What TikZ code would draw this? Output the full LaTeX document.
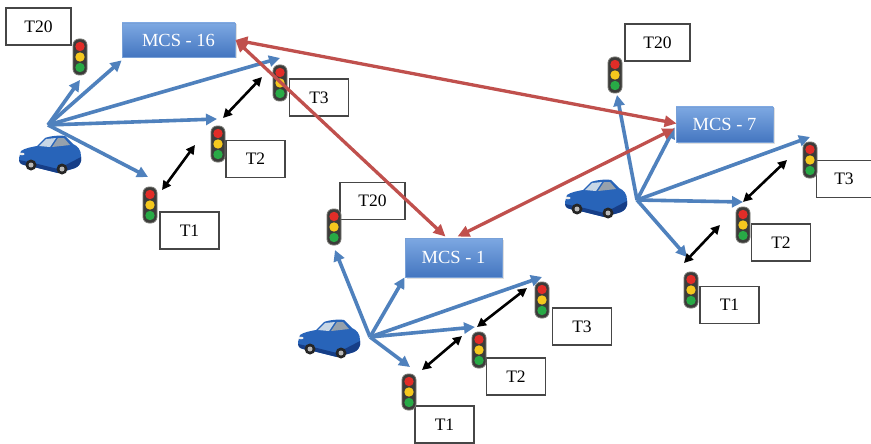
\documentclass[tikz,border=0pt]{standalone}
\usepackage{fontspec}
\setmainfont{Liberation Serif}
\usetikzlibrary{arrows.meta,calc,shadows}

\definecolor{linkblue}{RGB}{79,129,189}
\definecolor{linkred}{RGB}{192,80,77}
\definecolor{mcstop}{RGB}{125,168,226}
\definecolor{mcsbot}{RGB}{68,118,192}
\definecolor{mcsedge}{RGB}{120,160,215}
\definecolor{labeledge}{RGB}{70,70,70}
\definecolor{lampbody}{RGB}{60,60,58}
\definecolor{lampedge}{RGB}{120,120,115}
\definecolor{lampred}{RGB}{225,45,40}
\definecolor{lampyellow}{RGB}{245,200,30}
\definecolor{lampgreen}{RGB}{40,170,70}
\definecolor{carblue}{RGB}{40,100,185}
\definecolor{carshade}{RGB}{22,62,135}
\definecolor{carglass}{RGB}{200,215,230}

\tikzset{
  tlabel/.style={draw=labeledge, line width=1.3pt, fill=white, minimum width=59pt,
    minimum height=37pt, inner sep=0pt, font=\fontsize{17.5}{20}\selectfont},
  wlabel/.style={tlabel, minimum width=65pt},
  mcs/.style={draw=mcsedge, line width=0.8pt, top color=mcstop, bottom color=mcsbot,
    text=white, inner sep=0pt, font=\fontsize{18.5}{20}\selectfont,
    drop shadow={opacity=0.25, shadow xshift=1.5pt, shadow yshift=-1.5pt}},
  tlight/.style={fill=lampbody, draw=lampedge, line width=0.8pt, rounded corners=6pt,
    minimum width=14pt, minimum height=36pt, inner sep=0pt,
    path picture={
      \fill[lampred] ($(path picture bounding box.center)+(0,-10.5)$) circle[radius=4.7pt];
      \fill[lampyellow] (path picture bounding box.center) circle[radius=4.7pt];
      \fill[lampgreen] ($(path picture bounding box.center)+(0,10.5)$) circle[radius=4.7pt];}},
  car/.style={minimum width=64pt, minimum height=40pt, inner sep=0pt,
    path picture={
      \begin{scope}[shift={(path picture bounding box.center)}, x=1pt, y=-1pt]
        % body
        \fill[carblue] (-31,4) -- (-29,-3) .. controls (-25,-6) and (-18,-7) .. (-13,-8)
          -- (-5,-16) .. controls (0,-18) and (10,-19) .. (15,-18) -- (23,-10)
          .. controls (28,-8) and (31,-4) .. (31,2) -- (31,7)
          .. controls (30,12) and (26,14) .. (22,15) -- (8,19) -- (-12,14) -- (-26,11)
          .. controls (-30,10) and (-31,8) .. cycle;
        % lower side in shadow
        \fill[carshade] (-31,6) -- (-12,10) -- (8,15) -- (31,3) -- (31,7)
          .. controls (30,12) and (26,14) .. (22,15) -- (8,19) -- (-12,14) -- (-26,11)
          .. controls (-30,10) and (-31,8) .. cycle;
        % glass
        \fill[carglass] (-11,-8) -- (-4,-15) -- (6,-16) -- (0,-7) -- cycle;
        \fill[carglass!75!black] (2,-7) -- (8,-16) -- (14,-16) -- (20,-9) -- cycle;
        % lights
        \fill[white!85!gray] (-28,0) ellipse[x radius=2.5pt, y radius=1.3pt];
        % wheels
        \fill[black!85] (-19,11) circle[radius=5.5pt];
        \fill[gray!55] (-19,11) circle[radius=2.5pt];
        \fill[black!85] (12,15) circle[radius=5.5pt];
        \fill[gray!55] (12,15) circle[radius=2.5pt];
      \end{scope}}},
  blink/.style={draw=linkblue, line width=3.6pt, -{Triangle[length=11pt,width=11pt]}},
  mcslink/.style={draw=linkred, line width=3.3pt,
    {Triangle[length=12pt,width=11pt]}-{Triangle[length=12pt,width=11pt]}},
  hop/.style={draw=black, line width=2.6pt,
    {Triangle[length=9pt,width=9pt]}-{Triangle[length=9pt,width=9pt]}}
}

\begin{document}
\begin{tikzpicture}[x=1pt, y=-1pt]
  \useasboundingbox[fill=white] (0,0) rectangle (871,444);

  % ---------- management servers ----------
  \node[mcs, minimum width=113pt, minimum height=34pt] (mcs16) at (178.5,40) {MCS - 16};
  \node[mcs, minimum width=97pt, minimum height=39pt] (mcs1) at (453.5,257.5) {MCS - 1};
  \node[mcs, minimum width=97pt, minimum height=35pt] (mcs7) at (724.5,124.5) {MCS - 7};

  % ---------- cluster around MCS - 16 ----------
  \node[wlabel] (c1t20) at (38.5,26.5) {T20};
  \node[tlabel] (c1t3) at (319,97.5) {T3};
  \node[tlabel] (c1t2) at (255.5,159) {T2};
  \node[tlabel] (c1t1) at (189.5,230.5) {T1};
  \node[tlight] (c1l20) at (80,57) {};
  \node[tlight] (c1l3) at (280,83) {};
  \node[tlight] (c1l2) at (218,144) {};
  \node[tlight] (c1l1) at (150,205) {};
  \node[car] (car1) at (50,154) {};
  \coordinate (s1) at (48,125);

  % ---------- cluster around MCS - 1 ----------
  \node[wlabel] (c2t20) at (372.5,201) {T20};
  \node[tlabel] (c2t3) at (582,326.5) {T3};
  \node[tlabel] (c2t2) at (516,376.5) {T2};
  \node[tlabel] (c2t1) at (444.5,424.5) {T1};
  \node[tlight] (c2l20) at (334,227) {};
  \node[tlight] (c2l3) at (542,300) {};
  \node[tlight] (c2l2) at (479,350) {};
  \node[tlight] (c2l1) at (409,392) {};
  \node[car] (car2) at (329,338) {};
  \coordinate (s2) at (370,337);

  % ---------- cluster around MCS - 7 ----------
  \node[wlabel] (c3t20) at (657.5,42.5) {T20};
  \node[tlabel, minimum width=55pt] (c3t3) at (844,179) {T3};
  \node[tlabel] (c3t2) at (781,242.5) {T2};
  \node[tlabel] (c3t1) at (729.5,305) {T1};
  \node[tlight] (c3l20) at (615,75) {};
  \node[tlight] (c3l3) at (810,160) {};
  \node[tlight] (c3l2) at (743,225) {};
  \node[tlight] (c3l1) at (691,290) {};
  \node[car] (car3) at (596,198) {};
  \coordinate (s3) at (637,200);

  % ---------- vehicle broadcasts ----------
  \draw[blink] (s1) -- ($(c1l20.center)+(0,23)$);
  \draw[blink] (s1) -- ($(mcs16.south west)+(0,3)$);
  \draw[blink] (s1) -- ($(c1l3.center)+(0,-25)$);
  \draw[blink] (s1) -- ($(c1l2.center)+(-1,-25)$);
  \draw[blink] (s1) -- ($(c1l1.center)+(-2,-28)$);

  \draw[blink] (s2) -- ($(c2l20.center)+(1,23)$);
  \draw[blink] (s2) -- (mcs1.south west);
  \draw[blink] (s2) -- ($(c2l3.center)+(0,-23)$);
  \draw[blink] (s2) -- ($(c2l2.center)+(-4,-23)$);
  \draw[blink] (s2) -- ($(c2l1.center)+(1,-25)$);

  \draw[blink] (s3) -- ($(c3l20.center)+(2,20)$);
  \draw[blink] (s3) -- ($(mcs7.west)+(-1,3)$);
  \draw[blink] (s3) -- ($(c3l3.center)+(0,-23)$);
  \draw[blink] (s3) -- ($(c3l2.center)+(0,-23)$);
  \draw[blink] (s3) -- ($(c3l1.center)+(-4,-33)$);

  % ---------- light-to-light links ----------
  \draw[hop] ($(c1l1.center)+(12,-15)$) -- ($(c1l2.center)+(-23,1)$);
  \draw[hop] ($(c1l2.center)+(5,-26)$) -- ($(c1l3.center)+(-18,-6)$);
  \draw[hop] ($(c2l1.center)+(13,-22)$) -- ($(c2l2.center)+(-17,-14)$);
  \draw[hop] ($(c2l2.center)+(-2,-23)$) -- ($(c2l3.center)+(-15,-12)$);
  \draw[hop] ($(c3l1.center)+(-7,-27)$) -- ($(c3l2.center)+(-23,0)$);
  \draw[hop] ($(c3l2.center)+(0,-23)$) -- ($(c3l3.center)+(-23,0)$);

  % ---------- server-to-server links ----------
  \draw[mcslink] (mcs16.east) -- ($(mcs7.west)+(1,-1)$);
  \draw[mcslink] (mcs16.east) -- ($(mcs1.north)+(-8,-1)$);
  \draw[mcslink] ($(mcs1.north)+(4,-1)$) -- ($(mcs7.west)+(-1,4)$);
\end{tikzpicture}
\end{document}
